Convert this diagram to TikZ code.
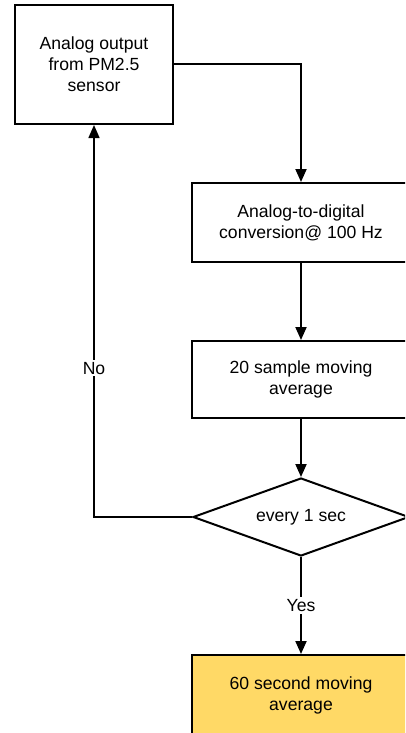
\documentclass[tikz,border=0pt]{standalone}
\usepackage{fontspec}
\setmainfont{Liberation Sans}
\usetikzlibrary{arrows.meta,shapes.geometric}
\definecolor{boxyellow}{HTML}{FFD966}
\tikzset{
  box/.style={draw=black, line width=2pt, rectangle, align=center, inner sep=0pt,
              font=\fontsize{17.6}{21}\selectfont},
  decision/.style={draw=black, line width=2pt, diamond, shape aspect=2.77, inner sep=0pt,
              minimum width=216pt, minimum height=78pt, font=\fontsize{17.6}{21}\selectfont},
  flow/.style={line width=2pt, -{Triangle[length=13pt,width=11pt]}},
  noflow/.style={line width=1.5pt, -{Triangle[length=13pt,width=11pt]}},
  lab/.style={fill=white, inner sep=2pt, font=\fontsize{17.6}{21}\selectfont}
}
\begin{document}
\begin{tikzpicture}[x=1pt,y=-1pt]
\useasboundingbox (0,0) rectangle (405,733);
\clip (0,0) rectangle (405,733);
\node[box, minimum width=158pt, minimum height=119pt] (b1) at (94,64.5) {Analog output\\from PM2.5\\sensor};
\node[box, minimum width=218pt, minimum height=79pt] (b2) at (301,222.5) {Analog-to-digital\\conversion@ 100 Hz};
\node[box, minimum width=218pt, minimum height=77pt] (b3) at (301,379.5) {20 sample moving\\average};
\node[decision] (d) at (301,517) {every 1 sec};
\node[box, fill=boxyellow, minimum width=218pt, minimum height=80pt] (b4) at (301,695) {60 second moving\\average};
\draw[flow] (b1.east) -| (b2.north);
\draw[flow] (b2.south) -- (b3.north);
\draw[flow] (b3.south) -- (d.north);
\draw[flow] (d.south) -- node[lab] {Yes} (b4.north);
\draw[noflow] (d.west) -| node[lab, pos=0.69] {No} (b1.south);
\end{tikzpicture}
\end{document}
